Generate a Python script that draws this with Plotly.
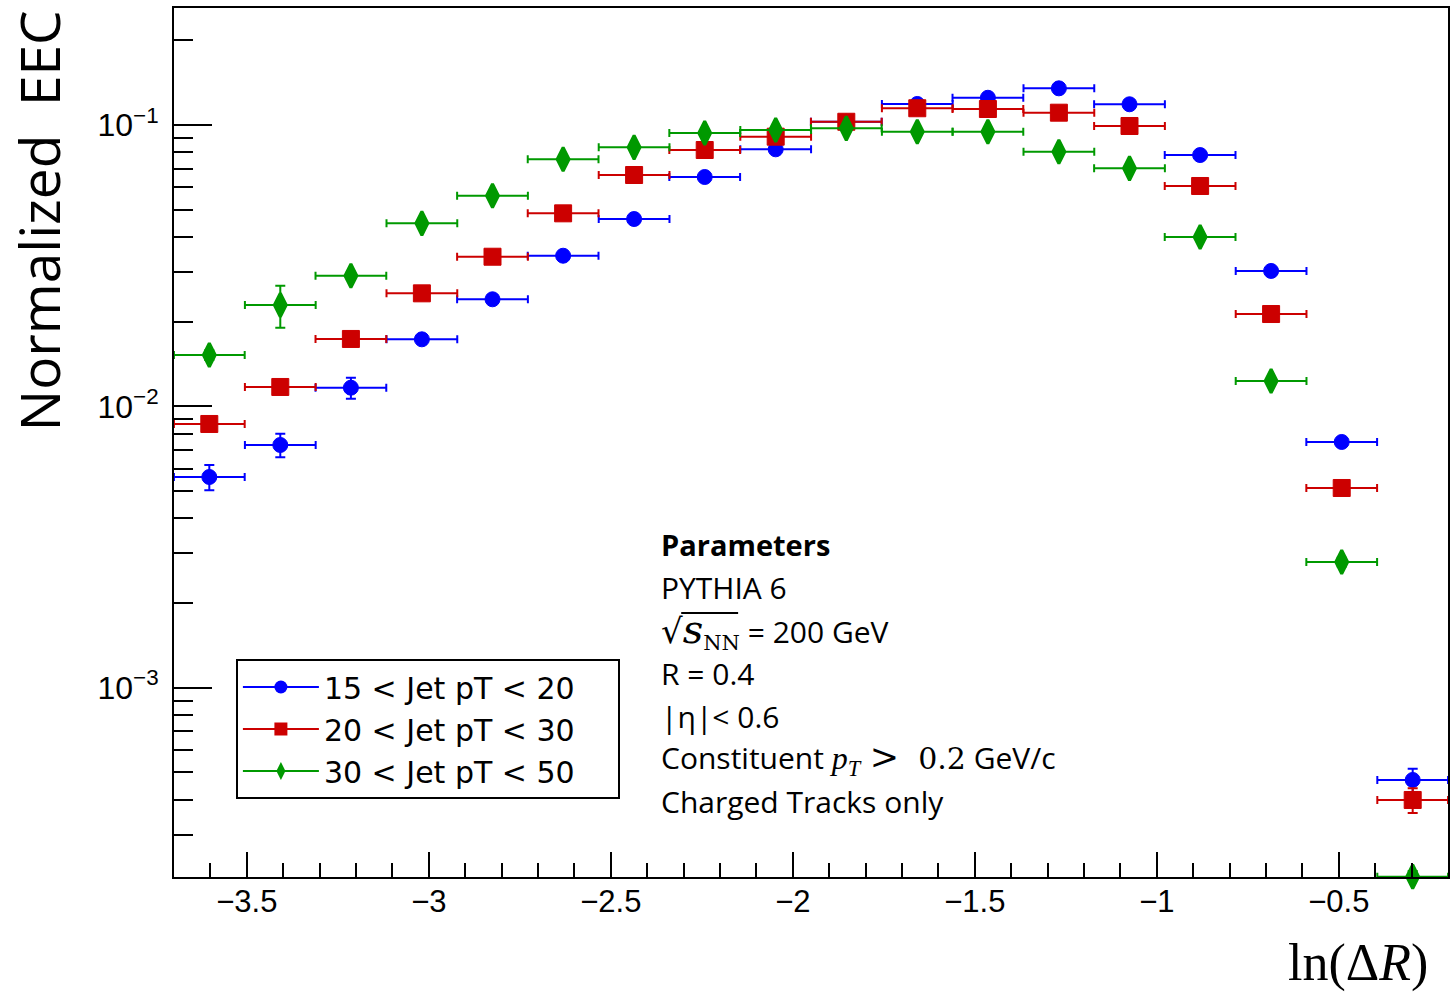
import plotly.graph_objects as go

# ---------------- data ----------------
ln_dr = [-3.603, -3.408, -3.214, -3.019, -2.825, -2.631, -2.436, -2.242, -2.047,
         -1.853, -1.658, -1.464, -1.269, -1.075, -0.881, -0.686, -0.492, -0.297]
bin_half_width = 0.0972

eec_15_20 = [0.00561, 0.00729, 0.01165, 0.01731, 0.02402, 0.03431, 0.04633, 0.06534, 0.08196,
             0.1027, 0.1188, 0.1250, 0.1350, 0.1185, 0.0782, 0.03029, 0.007472, 0.000470]
err_15_20 = [0.00058, 0.00070, 0.00100, 0.00060, 0.00060, 0.00060, 0.00070, 0.00080, 0.00080,
             0.00090, 0.00100, 0.00100, 0.00100, 0.00100, 0.00080, 0.00040, 0.00020, 0.000045]

eec_20_30 = [0.008657, 0.01172, 0.01736, 0.02522, 0.03403, 0.04854, 0.06642, 0.08150, 0.09088,
             0.1027, 0.1147, 0.1140, 0.1106, 0.0992, 0.06071, 0.02129, 0.005127, 0.000399]
err_20_30 = [0.00040, 0.00040, 0.00050, 0.00060, 0.00060, 0.00070, 0.00080, 0.00080, 0.00080,
             0.00090, 0.00090, 0.00090, 0.00090, 0.00080, 0.00060, 0.00030, 0.00010, 0.000040]

eec_30_50 = [0.01522, 0.02292, 0.02913, 0.04473, 0.05606, 0.07553, 0.08331, 0.09366, 0.09599,
             0.09734, 0.09466, 0.09466, 0.08037, 0.07016, 0.03998, 0.01231, 0.002797, 0.000213]
err_30_50 = [0.00060, 0.00390, 0.00090, 0.00100, 0.00100, 0.00100, 0.00100, 0.00100, 0.00100,
             0.00100, 0.00100, 0.00100, 0.00090, 0.00080, 0.00060, 0.00030, 0.00010, 0.000010]

series_names = ["15 < Jet pT < 20", "20 < Jet pT < 30", "30 < Jet pT < 50"]
series_colors = ["#0000ff", "#cc0000", "#009900"]
series_symbols = ["circle", "square", "diamond-tall"]
series_sizes = [15, 17, 17]
series_line = [1, 1, 3]

x_tickvals = [-3.5, -3, -2.5, -2, -1.5, -1, -0.5]
x_ticktext = ["\u22123.5", "\u22123", "\u22122.5", "\u22122", "\u22121.5", "\u22121", "\u22120.5"]
y_tickvals = [1e-3, 1e-2, 1e-1]
y_ticktext = ["10<sup>\u22123</sup>", "10<sup>\u22122</sup>", "10<sup>\u22121</sup>"]
y_minorvals = [m * 10.0 ** e for e in (-4, -3, -2, -1) for m in range(2, 10)]

MATH = "DejaVu Serif"
MATH2 = "Liberation Serif"
param_lines = [
    "<span style='font-size:29px'><b>Parameters</b></span>",
    "PYTHIA 6",
    f"<span style='font-family:{MATH};font-size:34px'>\u221a<span style='font-size:40px'><i>s</i></span>"
    f"<sub><span style='font-size:21px'>NN</span></sub></span> = 200 GeV",
    "R = 0.4",
    "|\u03b7|< 0.6",
    f"Constituent <span style='font-family:{MATH2};font-size:32px'><i>p</i><sub><i>T</i></sub></span>"
    f"<span style='font-family:{MATH};font-size:30px'> <span style='font-size:35px'>&gt;</span>\u00a0\u00a00.2</span> GeV/c",
    "Charged Tracks only",
]
param_y_px = [544, 587, 630, 673, 716, 759, 801]

# ---------------- figure ----------------
W, H = 1452, 992
ML, MR, MT, MB = 174, 2, 8, 115
PW, PH = W - ML - MR, H - MT - MB

fig = go.Figure()
for yv, ev, name, col, sym, sz, lw in zip(
        [eec_15_20, eec_20_30, eec_30_50], [err_15_20, err_20_30, err_30_50],
        series_names, series_colors, series_symbols, series_sizes, series_line):
    fig.add_trace(go.Scatter(
        x=ln_dr, y=yv, mode="markers", showlegend=False, cliponaxis=False,
        marker=dict(symbol=sym, size=sz, color=col, line=dict(color=col, width=lw)),
        error_x=dict(type="constant", value=bin_half_width, color=col, thickness=2, width=4),
        error_y=dict(type="data", array=ev, color=col, thickness=2, width=5),
    ))
# legend entries (pad right side of the ROOT-style legend box)
for name, col, sym, sz in zip(series_names, series_colors, series_symbols, [13, 13, 13]):
    fig.add_trace(go.Scatter(
        x=[None], y=[None], mode="lines+markers", name=name + "\u00a0" * 4,
        line=dict(color=col, width=2),
        marker=dict(symbol=sym, size=sz, color=col),
    ))

fig.update_layout(
    width=W, height=H,
    margin=dict(l=ML, r=MR, t=MT, b=MB, pad=0),
    paper_bgcolor="white", plot_bgcolor="white",
    font=dict(family="Liberation Sans, Arial, sans-serif", color="black"),
    showlegend=True,
    legend=dict(
        x=(236 - ML) / PW, y=(H - MB - 659) / PH, xanchor="left", yanchor="top",
        bordercolor="black", borderwidth=2, bgcolor="white",
        font=dict(family="DejaVu Sans, sans-serif", size=30, color="black"),
        itemwidth=76, tracegroupgap=0,
    ),
)
fig.update_xaxes(
    range=[-3.7, -0.2], showgrid=False, zeroline=False,
    showline=True, linecolor="black", linewidth=2, mirror=True,
    ticks="inside", ticklen=25, tickwidth=2, tickcolor="black",
    tickvals=x_tickvals, ticktext=x_ticktext,
    tickfont=dict(family="Liberation Sans, Arial, sans-serif", size=31, color="black"),
    ticklabelstandoff=-4,
    minor=dict(ticks="inside", dtick=0.1, tick0=0, ticklen=14, tickwidth=2, tickcolor="black", showgrid=False),
)
fig.update_yaxes(
    type="log", range=[-3.6728, -0.5841], showgrid=False, zeroline=False,
    showline=True, linecolor="black", linewidth=2, mirror=True,
    ticks="inside", ticklen=38, tickwidth=2, tickcolor="black",
    tickvals=y_tickvals, ticktext=y_ticktext,
    tickfont=dict(family="Liberation Sans, Arial, sans-serif", size=32, color="black"),
    ticklabelstandoff=7,
    minor=dict(ticks="inside", tickvals=y_minorvals, ticklen=19, tickwidth=2, tickcolor="black", showgrid=False),
)

annotations = [
    dict(text="Normalized  EEC", textangle=-90, xref="paper", yref="paper",
         x=(39 - ML) / PW, y=(H - MB - 221) / PH, xanchor="center", yanchor="middle",
         showarrow=False, font=dict(family="Open Sans, sans-serif", size=55, color="black")),
    dict(text="ln(\u0394<i>R</i>)", xref="paper", yref="paper",
         x=(1432 - ML) / PW, y=(H - MB - 963) / PH, xanchor="right", yanchor="middle",
         showarrow=False, font=dict(family="Liberation Serif, serif", size=52, color="black")),
]
for txt, ypx in zip(param_lines, param_y_px):
    annotations.append(dict(
        text=txt, xref="paper", yref="paper",
        x=(660 - ML) / PW, y=(H - MB - ypx) / PH, xanchor="left", yanchor="middle",
        showarrow=False, align="left",
        font=dict(family="Open Sans, sans-serif", size=30, color="black"),
    ))
fig.update_layout(annotations=annotations)

# overbar of the square root sign (text decoration)
fig.add_shape(type="line", xref="paper", yref="paper",
              x0=(682 - ML) / PW, x1=(739 - ML) / PW,
              y0=(H - MB - 613) / PH, y1=(H - MB - 613) / PH,
              line=dict(color="black", width=2))

fig.write_html("out.html")
